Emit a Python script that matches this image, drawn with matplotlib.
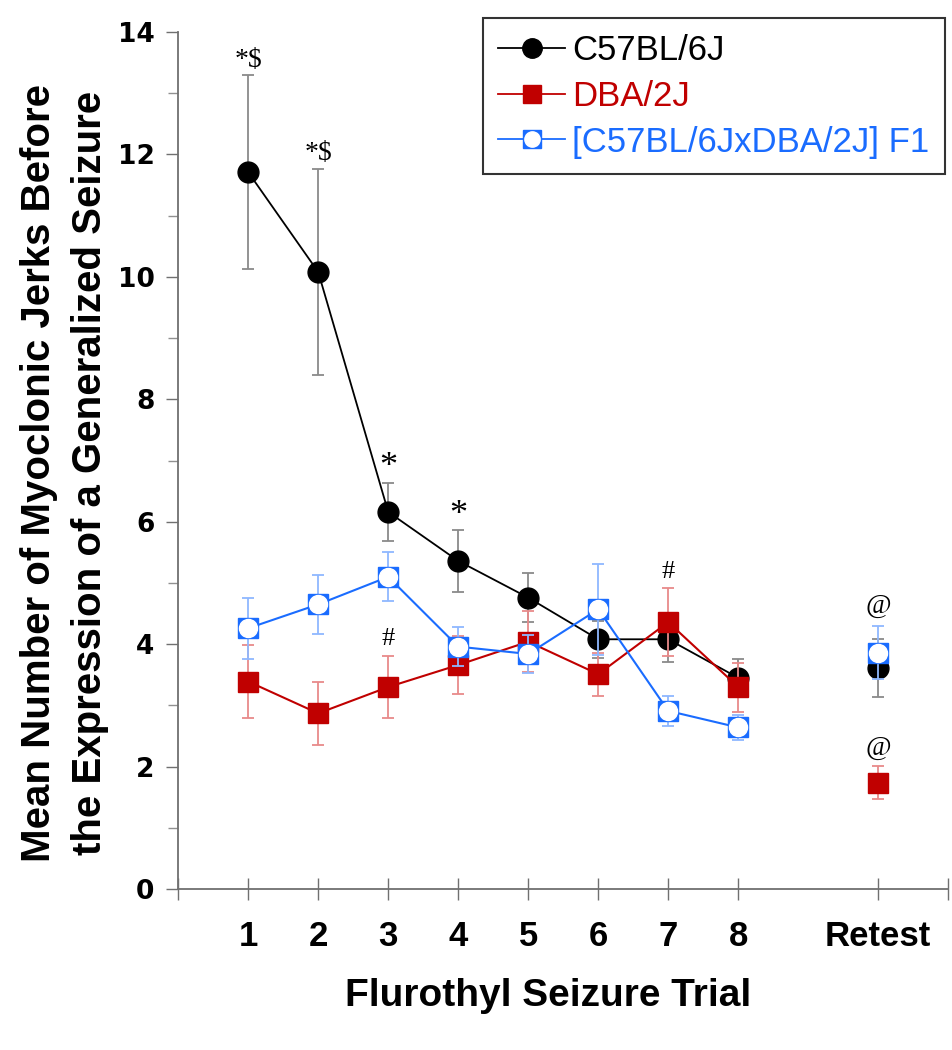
import matplotlib.pyplot as plt
from matplotlib.lines import Line2D
from matplotlib.ticker import MultipleLocator

# trial positions (retest shown at slot 10)
trials = [1, 2, 3, 4, 5, 6, 7, 8]
retest_x = 10
tick_labels = ["1", "2", "3", "4", "5", "6", "7", "8", "Retest"]

b6_mean = [11.71, 10.08, 6.16, 5.36, 4.76, 4.08, 4.08, 3.45]
b6_sem = [1.58, 1.68, 0.47, 0.50, 0.40, 0.30, 0.37, 0.30]
b6_retest, b6_retest_sem = 3.61, 0.48

dba_mean = [3.39, 2.87, 3.30, 3.66, 4.04, 3.51, 4.36, 3.30]
dba_sem = [0.59, 0.52, 0.50, 0.47, 0.50, 0.35, 0.56, 0.40]
dba_retest, dba_retest_sem = 1.74, 0.27

f1_mean = [4.26, 4.65, 5.10, 3.96, 3.84, 4.57, 2.91, 2.64]
f1_sem = [0.50, 0.48, 0.40, 0.32, 0.31, 0.74, 0.25, 0.21]
f1_retest, f1_retest_sem = 3.86, 0.43

# significance marks: (x, y, text, size)
marks = [
    (1, 13.54, "*$", 20),
    (2, 12.02, "*$", 20),
    (3, 6.88, "*", 26),
    (4, 6.11, "*", 26),
    (3, 4.08, "#", 19),
    (7, 5.18, "#", 19),
    (10, 4.61, "@", 20),
    (10, 2.30, "@", 20),
]

BLACK = "#000000"
RED = "#c00000"
BLUE = "#1a6cff"

plt.rcParams["font.family"] = ["Liberation Sans", "DejaVu Sans"]

fig = plt.figure(figsize=(9.53, 10.5), dpi=100)
ax = fig.add_axes([0.187, 0.1533, 0.808, 0.8162])

ebkw = dict(capsize=4, elinewidth=1.3, capthick=1.3)

# C57BL/6J
ax.errorbar(trials, b6_mean, yerr=b6_sem, color=BLACK, ecolor="#8a8a8a", lw=1.3,
            marker="o", ms=15, zorder=3, **ebkw)
ax.errorbar([retest_x], [b6_retest], yerr=[b6_retest_sem], color=BLACK, ecolor="#8a8a8a",
            ls="none", marker="o", ms=15, zorder=3, **ebkw)

# DBA/2J
ax.errorbar(trials, dba_mean, yerr=dba_sem, color=RED, ecolor="#e88a8a", lw=1.5,
            marker="s", ms=14, zorder=4, **ebkw)
ax.errorbar([retest_x], [dba_retest], yerr=[dba_retest_sem], color=RED, ecolor="#e88a8a",
            ls="none", marker="s", ms=14, zorder=4, **ebkw)

# F1 hybrid
ax.errorbar(trials, f1_mean, yerr=f1_sem, color=BLUE, ecolor="#8fb8ff", lw=1.5,
            marker="s", ms=14, zorder=5, **ebkw)
ax.errorbar([retest_x], [f1_retest], yerr=[f1_retest_sem], color=BLUE, ecolor="#8fb8ff",
            ls="none", marker="s", ms=14, zorder=5, **ebkw)
ax.plot(trials + [retest_x], f1_mean + [f1_retest], ls="none", marker="o", ms=13,
        mfc="white", mec="white", zorder=6)

for x, y, txt, size in marks:
    ax.text(x, y, txt, ha="center", va="center", fontsize=size,
            family=["Liberation Serif", "DejaVu Serif"], color="black")

ax.set_xlim(0, 11)
ax.set_ylim(0, 14)
ax.set_xticks([0, 1, 2, 3, 4, 5, 6, 7, 8, 10, 11])
ax.set_xticklabels([""] + tick_labels + [""])
ax.set_yticks(range(0, 15, 2))
ax.yaxis.set_minor_locator(MultipleLocator(1))

for s in ["top", "right"]:
    ax.spines[s].set_visible(False)
for s in ["left", "bottom"]:
    ax.spines[s].set_color("#707070")
    ax.spines[s].set_linewidth(1.3)

ax.tick_params(axis="x", direction="inout", length=16, width=1, color="#707070", pad=14)
ax.tick_params(axis="y", which="major", direction="out", length=9, width=1, color="#707070", pad=8)
ax.tick_params(axis="y", which="minor", direction="out", length=7, width=1, color="#909090")
for lab in ax.get_xticklabels():
    lab.set_fontsize(25)
    lab.set_fontweight("bold")
for lab in ax.get_yticklabels():
    lab.set_family("DejaVu Sans")
    lab.set_fontsize(19)
    lab.set_fontweight("heavy")

ax.set_xlabel("Flurothyl Seizure Trial", fontsize=28, fontweight="bold", labelpad=18)
ax.xaxis.label.set_x(0.48)
ax.set_ylabel("Mean Number of Myoclonic Jerks Before\nthe Expression of a Generalized Seizure",
              fontsize=29, fontweight="bold", labelpad=6, linespacing=1.45)
ax.yaxis.label.set_y(0.485)

h_b6 = Line2D([], [], color=BLACK, lw=1.3, marker="o", ms=14)
h_dba = Line2D([], [], color=RED, lw=1.3, marker="s", ms=13)
h_f1 = (Line2D([], [], color=BLUE, lw=1.3, marker="s", ms=13),
        Line2D([], [], ls="none", marker="o", ms=11, mfc="white", mec="white"))
leg = ax.legend([h_b6, h_dba, h_f1], ["C57BL/6J", "DBA/2J", "[C57BL/6JxDBA/2J] F1"],
                loc="upper right", bbox_to_anchor=(0.996, 1.016),
                prop={"family": ["Liberation Sans", "DejaVu Sans"], "size": 25},
                frameon=True, fancybox=False, handlelength=1.93, handletextpad=0.2,
                borderpad=0.45, labelspacing=0.37, borderaxespad=0.0)
leg.get_frame().set_edgecolor("black")
leg.get_frame().set_linewidth(1.5)
for t, c in zip(leg.get_texts(), [BLACK, RED, BLUE]):
    t.set_color(c)

fig.savefig("out.png", dpi=100)
